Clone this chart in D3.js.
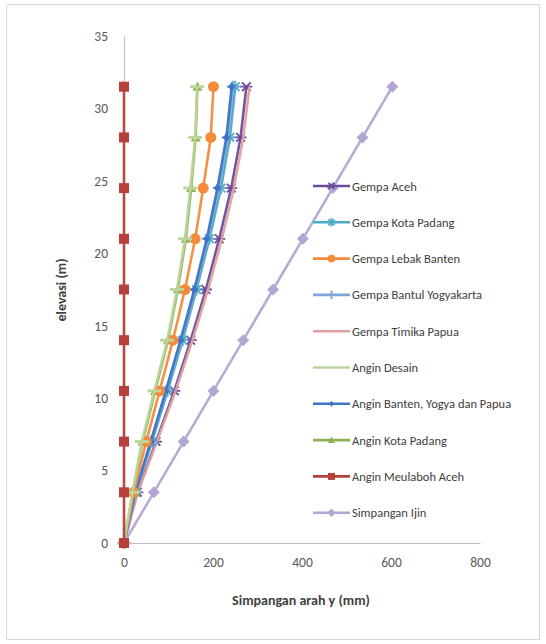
<!DOCTYPE html>
<html><head><meta charset="utf-8">
<script src="https://cdn.jsdelivr.net/npm/d3@7"></script>
<style>body{margin:0;background:#fff}</style>
</head><body>
<svg id="c" width="546" height="644"></svg>
<script>
const elevations = [0, 3.5, 7, 10.5, 14, 17.5, 21, 24.5, 28, 31.5];
const seriesNames = ["Gempa Aceh","Gempa Kota Padang","Gempa Lebak Banten","Gempa Bantul Yogyakarta","Gempa Timika Papua","Angin Desain","Angin Banten, Yogya dan Papua","Angin Kota Padang","Angin Meulaboh Aceh","Simpangan Ijin"];
const gempaAceh      = [0, 30, 72, 113, 150, 184, 214, 241, 262, 275];
const gempaKotaPadang= [0, 26, 63, 98, 132, 163, 192, 218, 238, 250];
const gempaLebak     = [0, 22, 50, 80, 110, 137, 160, 178, 195, 201];
const gempaBantul    = [0, 25, 61, 95, 129, 160, 188, 213, 233, 245];
const gempaTimika    = [0, 31, 74, 116, 154, 189, 220, 247, 268, 282];
const anginDesain    = [0, 19, 40, 68, 97, 119, 137, 149, 160, 164];
const anginBanten    = [0, 25, 60, 94, 127, 158, 186, 210, 230, 242];
const anginKotaPadang= [0, 20, 42, 70, 99, 121, 139, 151, 161, 165];
const anginMeulaboh  = [0, 0, 0, 0, 0, 0, 0, 0, 0, 0];
const simpanganIjin  = [0, 67, 134, 201, 268, 335, 402, 469, 536, 603];
const xTicks = [0, 200, 400, 600, 800];
const yTicks = [0, 5, 10, 15, 20, 25, 30, 35];

const values = [gempaAceh, gempaKotaPadang, gempaLebak, gempaBantul, gempaTimika, anginDesain, anginBanten, anginKotaPadang, anginMeulaboh, simpanganIjin];
const colors = ["#6B4C9A","#4BACC6","#F38B3A","#7FA5DA","#E0A0A0","#BCD59C","#3D74C4","#8DB255","#B8403C","#B3A6D3"];
const markers = ["xstar","star","circle","plus","none","dash","smalldiamond","triangle","square","diamond"];
const drawOrder = [7, 0, 4, 1, 3, 6, 2, 5, 9, 8];

const svg = d3.select("#c");
svg.append("rect").attr("x",6.5).attr("y",4.5).attr("width",533).attr("height",635).attr("fill","#fff").attr("stroke","#d9d9d9");

const x = d3.scaleLinear().domain([0,800]).range([124,480]);
const y = d3.scaleLinear().domain([0,35]).range([543,36]);

const font = "Carlito, Calibri, 'Liberation Sans', Arial, sans-serif";

const xAxis = svg.append("g").attr("transform",`translate(0,${y(0)})`)
  .call(d3.axisBottom(x).tickValues(xTicks).tickSize(0).tickPadding(14));
xAxis.select(".domain").attr("stroke","#bfbfbf").attr("stroke-width",1.2);
xAxis.selectAll("text").attr("font-family",font).attr("font-size",13.5).attr("fill","#595959");

const yAxis = svg.append("g").attr("transform",`translate(${x(0)},0)`)
  .call(d3.axisLeft(y).tickValues(yTicks).tickSize(0).tickPadding(16));
yAxis.select(".domain").attr("stroke","#bfbfbf").attr("stroke-width",1.2);
yAxis.selectAll("text").attr("font-family",font).attr("font-size",13.5).attr("fill","#595959");

svg.append("text").attr("x",301).attr("y",605).attr("text-anchor","middle")
  .attr("font-family",font).attr("font-size",14).attr("font-weight","bold").attr("fill","#404040")
  .text("Simpangan arah y (mm)");
svg.append("text").attr("transform","translate(66,290) rotate(-90)").attr("text-anchor","middle")
  .attr("font-family",font).attr("font-size",14).attr("font-weight","bold").attr("fill","#404040")
  .text("elevasi (m)");

function drawMarker(g, type, cx, cy, color, scale){
  const s = scale||1;
  if(type==="none") return;
  if(type==="circle"){ g.append("circle").attr("cx",cx).attr("cy",cy).attr("r",5.5*s).attr("fill",color); }
  else if(type==="square"){ g.append("rect").attr("x",cx-5*s).attr("y",cy-5*s).attr("width",10*s).attr("height",10*s).attr("fill",color); }
  else if(type==="diamond"||type==="smalldiamond"){ const r=(type==="diamond"?6:4)*s;
    g.append("path").attr("d",`M${cx},${cy-r}L${cx+r},${cy}L${cx},${cy+r}L${cx-r},${cy}Z`).attr("fill",color); }
  else if(type==="triangle"){ const r=5*s;
    g.append("path").attr("d",`M${cx},${cy-r}L${cx+r},${cy+r*0.8}L${cx-r},${cy+r*0.8}Z`).attr("fill",color); }
  else if(type==="dash"){ g.append("line").attr("x1",cx-7*s).attr("x2",cx+7*s).attr("y1",cy).attr("y2",cy).attr("stroke",color).attr("stroke-width",3); }
  else if(type==="plus"){ const r=6*s;
    g.append("path").attr("d",`M${cx-r},${cy}H${cx+r}M${cx},${cy-r}V${cy+r}`).attr("stroke",color).attr("stroke-width",2); }
  else if(type==="star"||type==="xstar"){ const r=6*s;
    let d=`M${cx-r},${cy}H${cx+r}`;
    const a=r*0.72; d+=`M${cx-a},${cy-a}L${cx+a},${cy+a}M${cx-a},${cy+a}L${cx+a},${cy-a}`;
    if(type==="star") d+=`M${cx},${cy-r}V${cy+r}`;
    g.append("path").attr("d",d).attr("stroke",color).attr("stroke-width",1.8); }
}

const line = d3.line().x(d=>x(d[0])).y(d=>y(d[1]));
drawOrder.forEach(i=>{
  const vals = values[i];
  const g = svg.append("g");
  const pts = vals.map((v,j)=>[v, elevations[j]]);
  g.append("path").attr("d",line(pts)).attr("fill","none").attr("stroke",colors[i]).attr("stroke-width",2.6).attr("opacity",0.95);
  pts.forEach(p=>drawMarker(g, markers[i], x(p[0]), y(p[1]), colors[i]));
});

const lg = svg.append("g");
seriesNames.forEach((name,i)=>{
  const ly = 186 + i*36.3;
  lg.append("line").attr("x1",313).attr("x2",350).attr("y1",ly).attr("y2",ly).attr("stroke",colors[i]).attr("stroke-width",2.6);
  drawMarker(lg, markers[i]==="dash"?"none":markers[i], 331.5, ly, colors[i], 0.7);
  lg.append("text").attr("x",352).attr("y",ly+4.5).attr("font-family",font).attr("font-size",12.5).attr("fill","#404040").text(name);
});
</script>
</body></html>
